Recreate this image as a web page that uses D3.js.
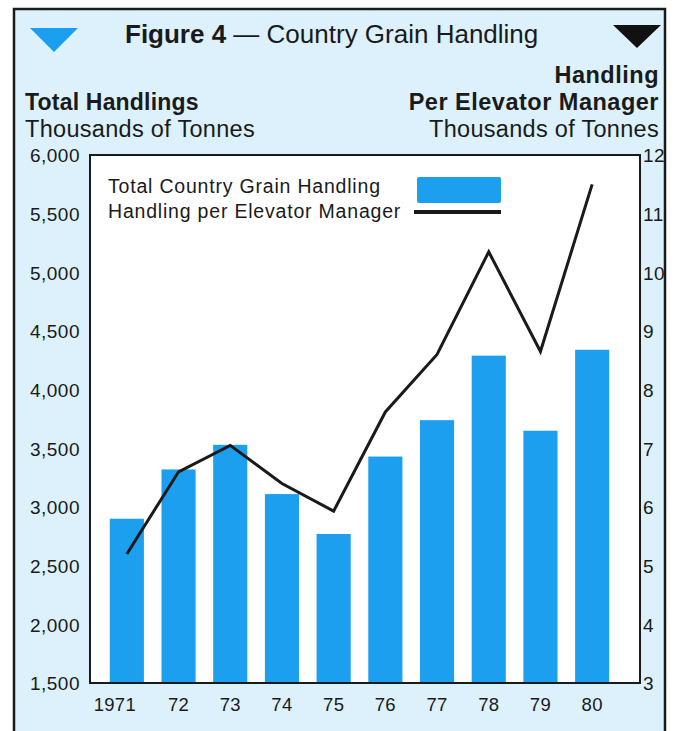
<!DOCTYPE html>
<html>
<head>
<script src="https://cdn.jsdelivr.net/npm/d3@7"></script>
<style>
  body { margin: 0; background: #fff; }
  text { font-family: "Liberation Sans", Arial, sans-serif; fill: #1a1a1a; }
</style>
</head>
<body>
<script>

var width = 677,
    height = 731;

// data
var years      = ["1971", "72", "73", "74", "75", "76", "77", "78", "79", "80"];
var totals     = [2900, 3320, 3530, 3110, 2770, 3430, 3740, 4290, 3650, 4340];   // thousands of tonnes
var perManager = [5.2, 6.6, 7.05, 6.4, 5.93, 7.62, 8.6, 10.35, 8.65, 11.5];     // thousands of tonnes
var leftTicks  = [1500, 2000, 2500, 3000, 3500, 4000, 4500, 5000, 5500, 6000];
var rightTicks = [3, 4, 5, 6, 7, 8, 9, 10, 11, 12];

var plot = { left: 90, top: 155, right: 640, bottom: 683 };

var svg = d3.select("body")
            .append("svg")
            .attr("width", width)
            .attr("height", height);

// panel background + frame
svg.append("rect")
   .attr("x", 14).attr("y", 9)
   .attr("width", 651).attr("height", 730)
   .style("fill", "#dcf1fb")
   .style("stroke", "#1a1a1a")
   .style("stroke-width", 2.5);

// title
var title = svg.append("text")
               .attr("x", 125).attr("y", 43)
               .style("font-size", "26px");
title.append("tspan").style("font-weight", "bold").text("Figure 4");
title.append("tspan").text(" \u2014 Country Grain Handling");

svg.append("path")
   .attr("d", "M30,28 L78,28 L54,52 Z")
   .style("fill", "#1d9ff0");
svg.append("path")
   .attr("d", "M613,25 L661,25 L637,48 Z")
   .style("fill", "#111");

// axis titles
svg.append("text").attr("x", 25).attr("y", 110)
   .style("font-size", "23px").style("font-weight", "bold")
   .style("letter-spacing", "0.2px").text("Total Handlings");
svg.append("text").attr("x", 25).attr("y", 137)
   .style("font-size", "23.5px").style("letter-spacing", "0.3px").text("Thousands of Tonnes");

var rt = [["Handling", true, 83], ["Per Elevator Manager", true, 110], ["Thousands of Tonnes", false, 137]];
rt.forEach(function (d) {
  svg.append("text").attr("x", 659).attr("y", d[2])
     .attr("text-anchor", "end")
     .style("font-size", "23.5px")
     .style("letter-spacing", d[1] ? "0.5px" : "0.3px")
     .style("font-weight", d[1] ? "bold" : "normal")
     .text(d[0]);
});

// plot box
svg.append("rect")
   .attr("x", plot.left).attr("y", plot.top)
   .attr("width", plot.right - plot.left).attr("height", plot.bottom - plot.top)
   .style("fill", "#fff");

var x = d3.scaleBand()
          .domain(years)
          .range([101, 618])
          .paddingInner(0.34)
          .paddingOuter(0.17);

var yL = d3.scaleLinear().domain([1500, 6000]).range([plot.bottom, plot.top]);
var yR = d3.scaleLinear().domain([3, 12]).range([plot.bottom, plot.top]);

svg.append("g")
   .selectAll("rect")
   .data(totals)
   .enter()
   .append("rect")
   .attr("x", function (d, i) { return x(years[i]); })
   .attr("width", x.bandwidth())
   .attr("y", function (d) { return yL(d); })
   .attr("height", function (d) { return plot.bottom - yL(d); })
   .style("fill", "#1d9ff0");

var line = d3.line()
             .x(function (d, i) { return x(years[i]) + x.bandwidth() / 2; })
             .y(function (d) { return yR(d); });

svg.append("path")
   .datum(perManager)
   .attr("d", line)
   .style("fill", "none")
   .style("stroke", "#1a1a1a")
   .style("stroke-width", 3)
   .style("stroke-linejoin", "miter");

svg.append("rect")
   .attr("x", plot.left).attr("y", plot.top)
   .attr("width", plot.right - plot.left).attr("height", plot.bottom - plot.top)
   .style("fill", "none")
   .style("stroke", "#1a1a1a")
   .style("stroke-width", 2);

// axes
var axL = svg.append("g")
             .attr("transform", "translate(" + plot.left + ",0)")
             .call(d3.axisLeft(yL).tickValues(leftTicks).tickSize(0).tickPadding(10).tickFormat(d3.format(",")));
var axR = svg.append("g")
             .attr("transform", "translate(" + plot.right + ",0)")
             .call(d3.axisRight(yR).tickValues(rightTicks).tickSize(0).tickPadding(3));
var axB = svg.append("g")
             .attr("transform", "translate(0," + plot.bottom + ")")
             .call(d3.axisBottom(x).tickSize(0).tickPadding(15));

[axL, axR, axB].forEach(function (a) {
  a.select(".domain").remove();
  a.selectAll("text")
   .style("font-size", "19px")
   .style("letter-spacing", "0.5px")
   .style("fill", "#1a1a1a")
   .style("font-family", "'Liberation Sans', Arial, sans-serif");
});
axL.selectAll("text").attr("dy", "0.36em");
axR.selectAll("text").attr("dy", "0.36em");
axB.selectAll("text").style("font-size", "18.5px").style("letter-spacing", "0.3px");
// the "1971" label sits left of its bar in the original
axB.selectAll("text").filter(function (d) { return d === "1971"; }).attr("dx", "-12");

// legend
svg.append("text").attr("x", 108).attr("y", 193)
   .style("font-size", "19.5px").style("letter-spacing", "0.8px").text("Total Country Grain Handling");
svg.append("text").attr("x", 108).attr("y", 218)
   .style("font-size", "19.5px").style("letter-spacing", "0.8px").text("Handling per Elevator Manager");
svg.append("rect")
   .attr("x", 417).attr("y", 177).attr("width", 84).attr("height", 26)
   .attr("rx", 2)
   .style("fill", "#1d9ff0");
svg.append("line")
   .attr("x1", 414).attr("x2", 501).attr("y1", 212).attr("y2", 212)
   .style("stroke", "#1a1a1a")
   .style("stroke-width", 4);

</script>
</body>
</html>
